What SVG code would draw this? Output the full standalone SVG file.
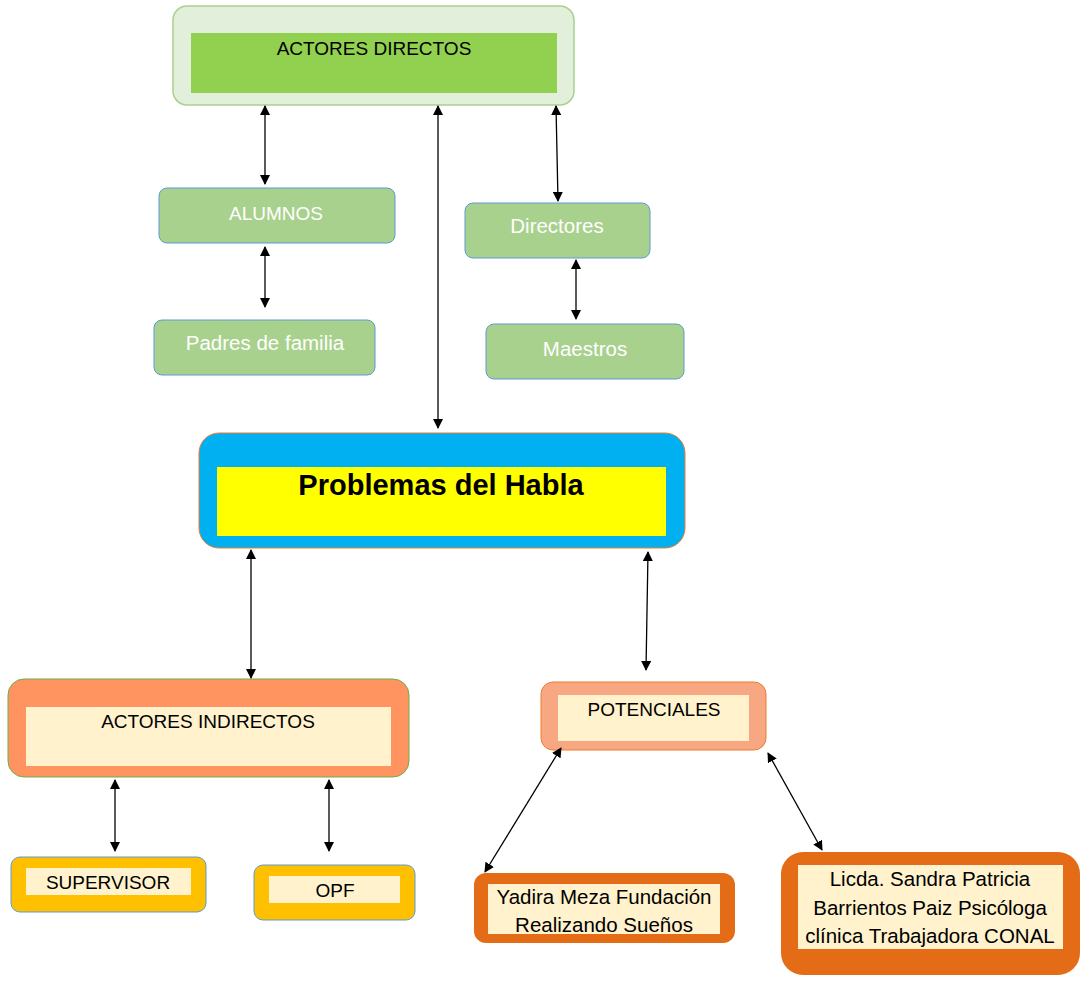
<svg xmlns="http://www.w3.org/2000/svg" width="1082" height="981" viewBox="0 0 1082 981">
<style>
text{font-family:"Liberation Sans",Arial,sans-serif;text-anchor:middle;font-size:19px;fill:#000}
.m{font-size:20.5px}
.w{fill:#fff}
.g{fill:#A9D18E;stroke:#5B9BD5;stroke-width:1}
.cream{fill:#FFF2CC}
.c line{stroke:#000;stroke-width:1.3;marker-start:url(#a);marker-end:url(#a)}
</style>
<defs>
<marker id="a" viewBox="0 0 10 10" refX="9" refY="5" markerWidth="10" markerHeight="10" markerUnits="userSpaceOnUse" orient="auto-start-reverse"><path d="M0,0 L10,5 L0,10 z" fill="#000"/></marker>
</defs>
<rect width="1082" height="981" fill="#fff"/>
<g id="actores-directos">
<rect x="173" y="6" width="401" height="99" rx="14" fill="#E2EFDA" stroke="#A9D18E" stroke-width="1.5"/>
<rect x="191" y="33" width="366" height="60" fill="#92D050"/>
<text x="374" y="55">ACTORES DIRECTOS</text>
</g>
<g id="alumnos"><rect class="g" x="159" y="188" width="236" height="55" rx="8"/><text class="w" x="276" y="220">ALUMNOS</text></g>
<g id="padres"><rect class="g" x="154" y="320" width="221" height="55" rx="8"/><text class="w m" x="265" y="350">Padres de familia</text></g>
<g id="directores"><rect class="g" x="465" y="203" width="185" height="55" rx="8"/><text class="w m" x="557" y="233">Directores</text></g>
<g id="maestros"><rect class="g" x="486" y="324" width="198" height="55" rx="8"/><text class="w m" x="585" y="356">Maestros</text></g>
<g id="problemas">
<rect x="199" y="433" width="486" height="115" rx="20" fill="#00B0F0" stroke="#ED7D31" stroke-width="1"/>
<rect x="217" y="467" width="449" height="69" fill="#FFFF00"/>
<text x="441" y="495" style="font-size:29px;font-weight:bold">Problemas del Habla</text>
</g>
<g id="actores-indirectos">
<rect x="8" y="679" width="401" height="98" rx="16" fill="#FF9460" stroke="#70AD47" stroke-width="1"/>
<rect class="cream" x="26" y="707" width="365" height="59"/>
<text x="208" y="728">ACTORES INDIRECTOS</text>
</g>
<g id="supervisor">
<rect x="11" y="857" width="195" height="55" rx="9" fill="#FFC000" stroke="#5B9BD5" stroke-width="1"/>
<rect class="cream" x="26" y="868" width="165" height="27"/>
<text x="108" y="889">SUPERVISOR</text>
</g>
<g id="opf">
<rect x="254" y="865" width="161" height="55" rx="9" fill="#FFC000" stroke="#5B9BD5" stroke-width="1"/>
<rect class="cream" x="269" y="876" width="131" height="27"/>
<text x="335" y="897">OPF</text>
</g>
<g id="potenciales">
<rect x="541" y="682" width="225" height="68" rx="12" fill="#F8A783" stroke="#ED7D31" stroke-width="1"/>
<rect class="cream" x="558" y="695" width="191" height="46"/>
<text x="654" y="716">POTENCIALES</text>
</g>
<g id="yadira">
<rect x="474" y="873" width="261" height="70" rx="12" fill="#E46C17"/>
<rect class="cream" x="488" y="884" width="232" height="50"/>
<text class="m" x="604" y="904">Yadira Meza Fundación</text>
<text class="m" x="604" y="932">Realizando Sueños</text>
</g>
<g id="licda">
<rect x="781" y="852" width="299" height="123" rx="22" fill="#E46C17"/>
<rect class="cream" x="798" y="865" width="265" height="84"/>
<text class="m" x="930" y="886">Licda. Sandra Patricia</text>
<text class="m" x="930" y="915">Barrientos Paiz Psicóloga</text>
<text class="m" x="930" y="943">clínica Trabajadora CONAL</text>
</g>
<g id="connectors" class="c">
<line x1="265" y1="106" x2="265" y2="184"/>
<line x1="438" y1="106" x2="438" y2="428"/>
<line x1="556" y1="106" x2="558" y2="201"/>
<line x1="265" y1="247" x2="265" y2="307"/>
<line x1="576" y1="260" x2="576" y2="319"/>
<line x1="251" y1="550" x2="251" y2="678"/>
<line x1="648" y1="552" x2="646" y2="670"/>
<line x1="115" y1="780" x2="115" y2="851"/>
<line x1="329" y1="780" x2="329" y2="851"/>
<line x1="561" y1="748" x2="485" y2="872"/>
<line x1="768" y1="753" x2="822" y2="850"/>
</g>
</svg>
